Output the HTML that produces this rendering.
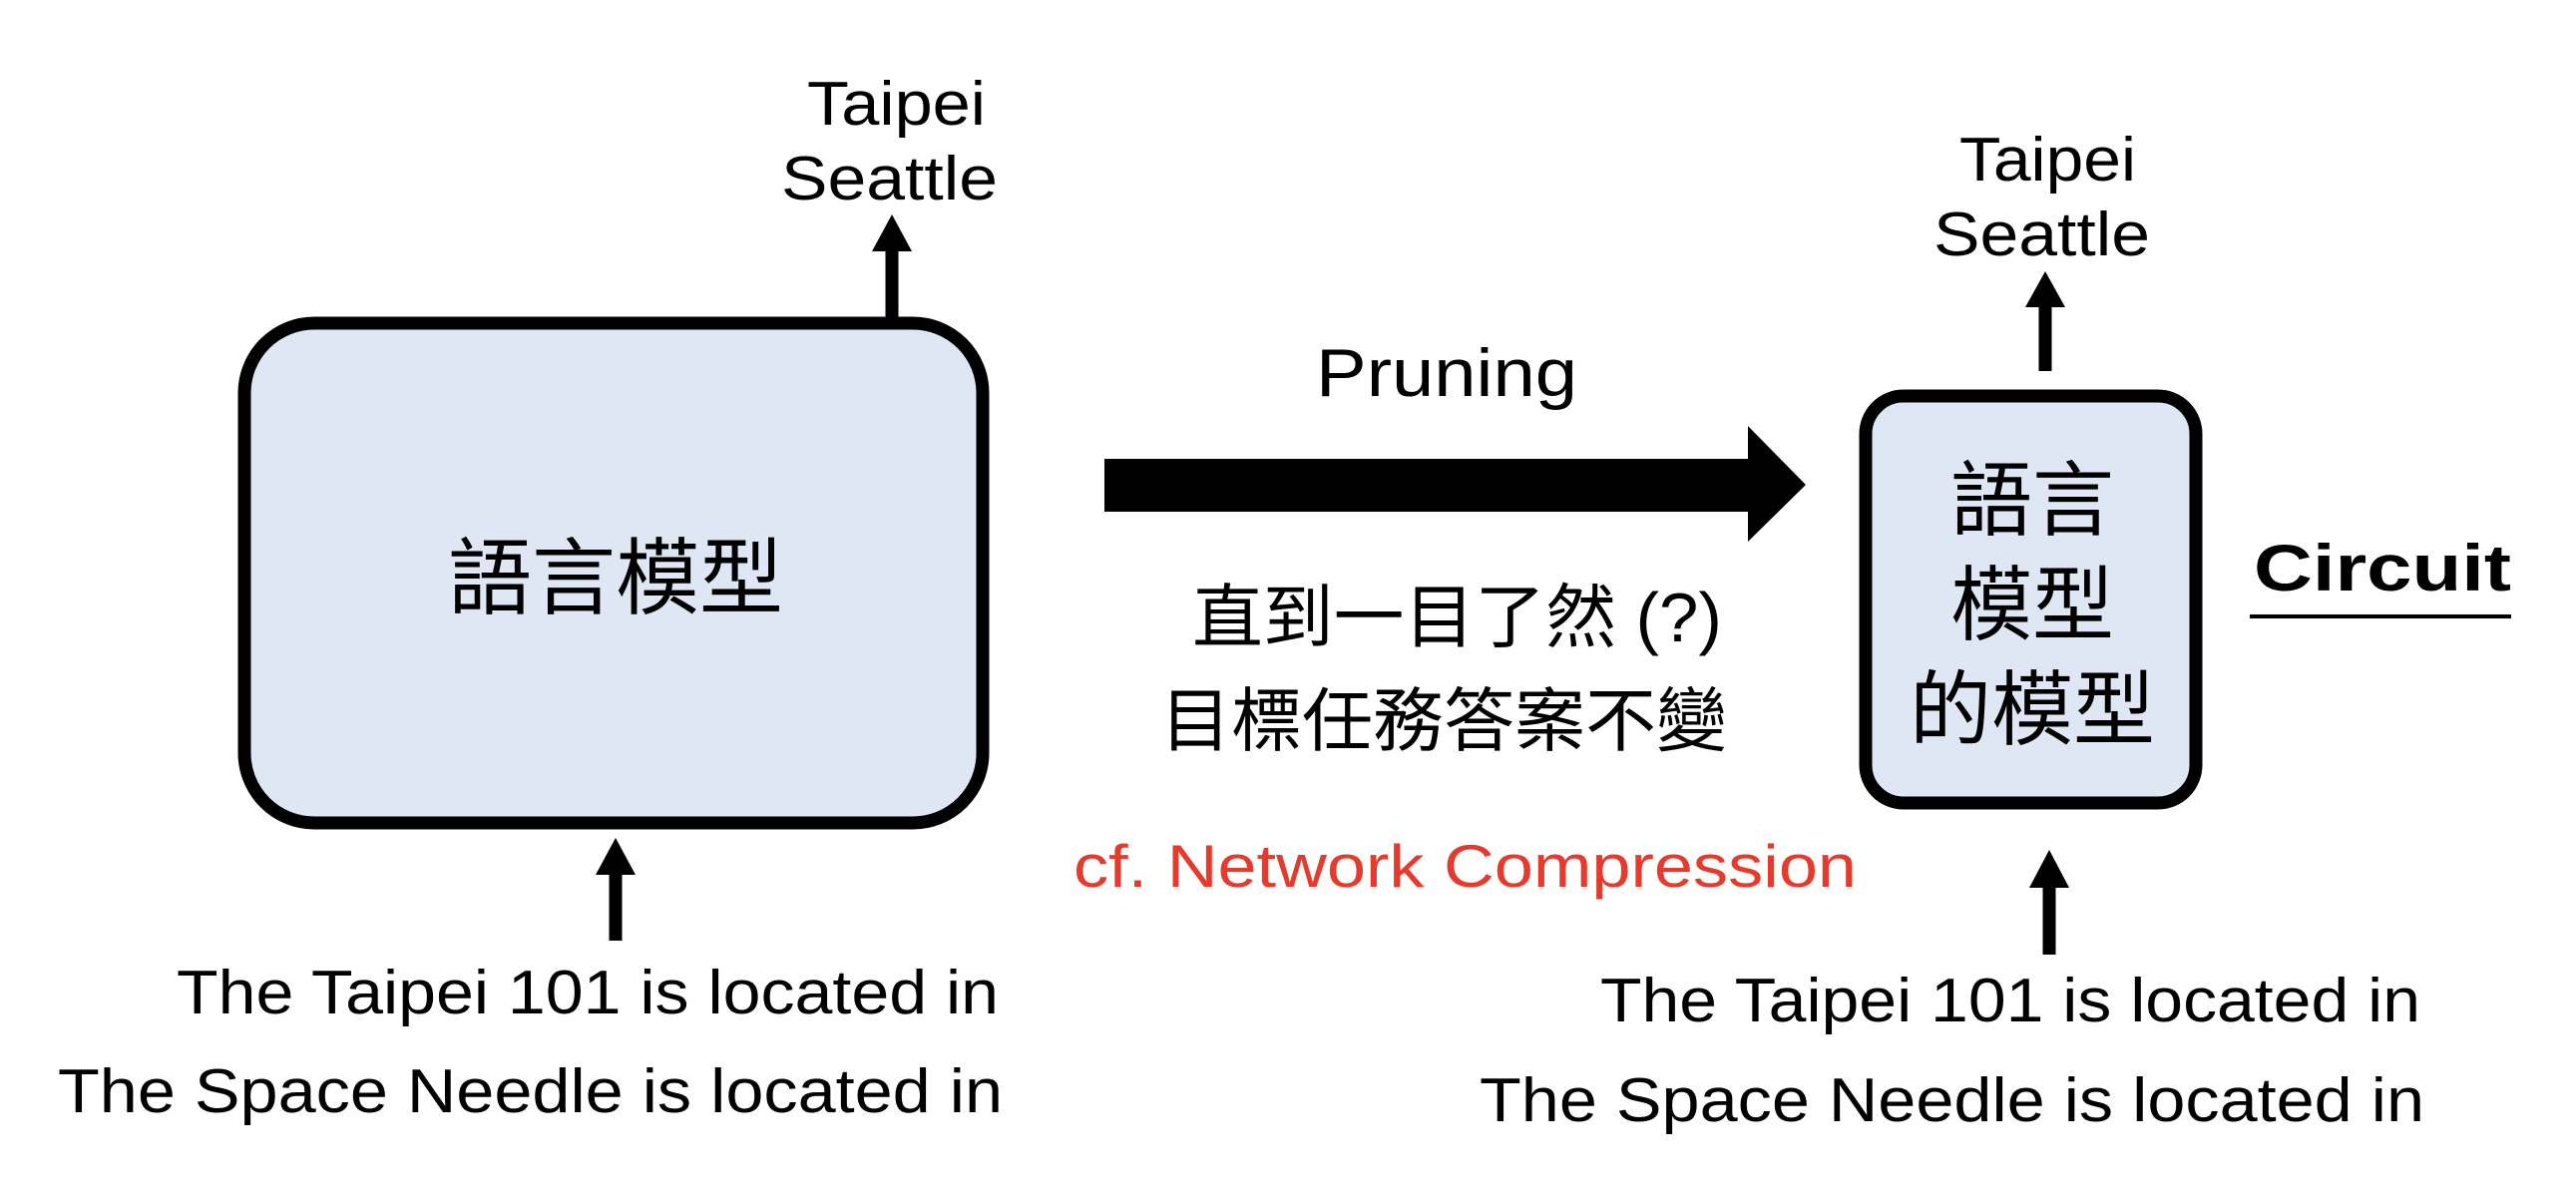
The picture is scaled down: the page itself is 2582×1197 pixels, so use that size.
<!DOCTYPE html>
<html><head><meta charset="utf-8"><style>
html,body{margin:0;padding:0;background:#fff;}
svg text{font-family:"Liberation Sans","Noto Sans CJK TC",sans-serif;}
</style></head><body>
<svg width="2582" height="1192" viewBox="0 0 2582 1192" xmlns="http://www.w3.org/2000/svg">
<rect x="0" y="0" width="2582" height="1192" fill="#fff"/>
<!-- left box -->
<rect x="245" y="324" width="740" height="501" rx="70" fill="#dee7f3" stroke="#000" stroke-width="13"/>
<text x="617" y="609" font-size="84" text-anchor="middle">語言模型</text>
<!-- left top arrow -->
<line x1="894" y1="318" x2="894" y2="250" stroke="#000" stroke-width="13"/>
<polygon points="874,252 914,252 894,215" fill="#000"/>
<text x="809" y="125" font-size="62" textLength="179" lengthAdjust="spacingAndGlyphs">Taipei</text>
<text x="783" y="200" font-size="62" textLength="217" lengthAdjust="spacingAndGlyphs">Seattle</text>
<!-- left bottom arrow -->
<line x1="617" y1="943" x2="617" y2="875" stroke="#000" stroke-width="13"/>
<polygon points="597,877 637,877 617,840" fill="#000"/>
<text x="177" y="1016" font-size="62" textLength="824" lengthAdjust="spacingAndGlyphs">The Taipei 101 is located in</text>
<text x="58" y="1115" font-size="62" textLength="947" lengthAdjust="spacingAndGlyphs">The Space Needle is located in</text>
<!-- big arrow -->
<polygon points="1107,460 1752,460 1752,427 1810,486 1752,543 1752,513 1107,513" fill="#000"/>
<text x="1319" y="397" font-size="68" textLength="262" lengthAdjust="spacingAndGlyphs">Pruning</text>
<text x="1195" y="643" font-size="70" textLength="531" lengthAdjust="spacingAndGlyphs">直到一目了然 (?)</text>
<text x="1163" y="747" font-size="70" textLength="568" lengthAdjust="spacingAndGlyphs">目標任務答案不變</text>
<text x="1076" y="889" font-size="60" fill="#e53a2c" textLength="785" lengthAdjust="spacingAndGlyphs">cf. Network Compression</text>
<!-- right box -->
<rect x="1870" y="397" width="331" height="408" rx="38" fill="#dee7f3" stroke="#000" stroke-width="13"/>
<text x="2037" y="530" font-size="82" text-anchor="middle">語言</text>
<text x="2037" y="635" font-size="82" text-anchor="middle">模型</text>
<text x="2037" y="740" font-size="82" text-anchor="middle">的模型</text>
<!-- right top arrow -->
<line x1="2050" y1="372" x2="2050" y2="305" stroke="#000" stroke-width="13"/>
<polygon points="2030,308 2070,308 2050,272" fill="#000"/>
<text x="1964" y="181" font-size="62" textLength="177" lengthAdjust="spacingAndGlyphs">Taipei</text>
<text x="1938" y="256" font-size="62" textLength="217" lengthAdjust="spacingAndGlyphs">Seattle</text>
<!-- right bottom arrow -->
<line x1="2054" y1="957" x2="2054" y2="887" stroke="#000" stroke-width="13"/>
<polygon points="2034,890 2074,890 2054,852" fill="#000"/>
<text x="1604" y="1024" font-size="62" textLength="822" lengthAdjust="spacingAndGlyphs">The Taipei 101 is located in</text>
<text x="1483" y="1124" font-size="62" textLength="947" lengthAdjust="spacingAndGlyphs">The Space Needle is located in</text>
<!-- Circuit -->
<text x="2259" y="592" font-size="66" font-weight="bold" textLength="258" lengthAdjust="spacingAndGlyphs">Circuit</text>
<line x1="2255" y1="618" x2="2517" y2="618" stroke="#000" stroke-width="4"/>
</svg>
</body></html>
